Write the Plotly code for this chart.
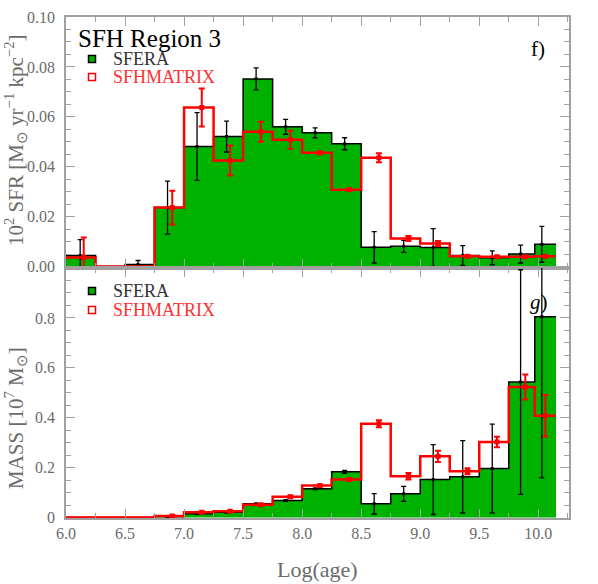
import plotly.graph_objects as go
from plotly.subplots import make_subplots

# bin edges in log(age) and the positions of the error bars
edges = [6.0, 6.25, 6.5, 6.75, 7.0, 7.25, 7.5, 7.75, 8.0, 8.25, 8.5, 8.75,
         9.0, 9.25, 9.5, 9.75, 9.97, 10.15]
age_sfera = [6.12, 6.375, 6.61, 6.86, 7.11, 7.36, 7.61, 7.86, 8.11, 8.36,
             8.61, 8.86, 9.11, 9.36, 9.61, 9.85, 10.03]
age_matrix = [6.15, 6.40, 6.65, 6.90, 7.15, 7.39, 7.65, 7.90, 8.15, 8.40,
              8.65, 8.90, 9.15, 9.40, 9.65, 9.89, 10.06]

# panel f) : SFR
sfr_sfera = [0.0044, 0.0, 0.0008, 0.0236, 0.0481, 0.0521, 0.0752, 0.0560, 0.0536,
             0.0492, 0.0077, 0.0081, 0.0076, 0.0044, 0.0035, 0.0050, 0.0089]
sfr_sfera_err = [0.0064, None, 0.0016, 0.0106, 0.0136, 0.0062, 0.0044, 0.0030, 0.0020,
                 0.0024, 0.0063, 0.0024, 0.0076, 0.0040, 0.0028, 0.0036, 0.0072]
sfr_matrix = [0.0036, 0.0, 0.0, 0.0236, 0.0637, 0.0425, 0.0540, 0.0508, 0.0456,
              0.0308, 0.0436, 0.0112, 0.0092, 0.0041, 0.0039, 0.0039, 0.0041]
sfr_matrix_err = [0.0080, None, None, 0.0068, 0.0076, 0.0060, 0.0040, 0.0036, 0.0006,
                  0.0004, 0.0018, 0.0010, 0.0010, 0.0004, 0.0004, 0.0004, 0.0004]

# panel g) : MASS
mass_sfera = [0.0, 0.0, 0.0, 0.004, 0.015, 0.021, 0.055, 0.068, 0.115, 0.183,
              0.055, 0.095, 0.152, 0.163, 0.196, 0.543, 0.805]
mass_sfera_err = [None, None, None, 0.002, 0.002, 0.002, 0.002, 0.003, 0.003, 0.006,
                  0.041, 0.030, 0.140, 0.145, 0.178, 0.450, 0.646]
mass_matrix = [0.0, 0.0, 0.0, 0.006, 0.021, 0.025, 0.051, 0.083, 0.128, 0.152,
               0.376, 0.165, 0.245, 0.185, 0.303, 0.523, 0.408]
mass_matrix_err = [None, None, None, 0.002, 0.003, 0.003, 0.004, 0.005, 0.004, 0.004,
                   0.014, 0.013, 0.023, 0.012, 0.021, 0.050, 0.083]

GREEN = "#00b200"
RED = "#ff0000"
GREY = "#6b6b6b"
FRAME = "#a0a0a0"
FONT = "Liberation Serif"

W, H = 598, 584
ML, MR, MT, MB = 66, 29, 17, 66


def px_x(px):
    return (px - ML) / (W - ML - MR)


def px_y(py):
    return (H - MB - py) / (H - MT - MB)


def step(vals):
    return vals + [vals[-1]]


def errbar_trace(x, vals, errs, color, thick, cap, msize):
    y = [v if e is not None else None for v, e in zip(vals, errs)]
    e = [e if e is not None else 0 for e in errs]
    return go.Scatter(
        x=x, y=y, mode="markers",
        marker=dict(size=msize, color=color, symbol="square"),
        error_y=dict(type="data", array=e, color=color, thickness=thick, width=cap),
        showlegend=False, hoverinfo="skip",
    )


fig = make_subplots(rows=2, cols=1, shared_xaxes=True, vertical_spacing=0)

panels = [
    (1, sfr_sfera, sfr_sfera_err, sfr_matrix, sfr_matrix_err),
    (2, mass_sfera, mass_sfera_err, mass_matrix, mass_matrix_err),
]
for row, s_val, s_err, m_val, m_err in panels:
    fig.add_trace(go.Scatter(
        x=edges, y=step(s_val), mode="lines", line_shape="hv",
        line=dict(color="black", width=1.5), fill="tozeroy", fillcolor=GREEN,
        showlegend=False, hoverinfo="skip",
    ), row=row, col=1)
    fig.add_trace(errbar_trace(age_sfera, s_val, s_err, "black", 1.3, 2.5, 3), row=row, col=1)
    fig.add_trace(go.Scatter(
        x=edges, y=step(m_val), mode="lines", line_shape="hv",
        line=dict(color=RED, width=2.5), showlegend=False, hoverinfo="skip",
    ), row=row, col=1)
    fig.add_trace(errbar_trace(age_matrix, m_val, m_err, RED, 2, 3, 5), row=row, col=1)

axis_common = dict(
    showline=True, linecolor=FRAME, linewidth=1.5, mirror="ticks",
    ticks="inside", ticklen=9, tickcolor=FRAME, tickwidth=1,
    showgrid=False, zeroline=False, automargin=False,
    tickfont=dict(family=FONT, size=16, color=GREY),
)

fig.update_xaxes(**axis_common, range=[6.0, 10.26], tick0=6.0, dtick=0.5,
                 tickformat=".1f",
                 minor=dict(dtick=0.25, ticks="inside", ticklen=5, tickcolor=FRAME))
fig.update_xaxes(showticklabels=False, row=1, col=1)

fig.update_yaxes(**axis_common, row=1, col=1, domain=[px_y(268), 1.0],
                 range=[-0.0006, 0.1], tickvals=[0, 0.02, 0.04, 0.06, 0.08, 0.10],
                 tickformat=".2f", ticklabelstandoff=6,
                 minor=dict(dtick=0.005, ticks="inside", ticklen=5, tickcolor=FRAME))
fig.update_yaxes(**axis_common, row=2, col=1, domain=[0.0, px_y(268)],
                 range=[-0.002, 1.0], tickvals=[0, 0.2, 0.4, 0.6, 0.8],
                 ticktext=["0", "0.2", "0.4", "0.6", "0.8"], ticklabelstandoff=6,
                 minor=dict(dtick=0.05, ticks="inside", ticklen=5, tickcolor=FRAME))

annotations = [
    dict(text="SFH Region 3", x=px_x(77), y=px_y(38), xanchor="left",
         font=dict(family=FONT, size=25, color="black")),
    dict(text="f)", x=px_x(538), y=px_y(49),
         font=dict(family=FONT, size=21, color="black")),
    dict(text="<i>g</i>)", x=px_x(539), y=px_y(302),
         font=dict(family=FONT, size=21, color="black")),
    dict(text="Log(age)", x=0.5, y=px_y(569),
         font=dict(family=FONT, size=22, color=GREY)),
    dict(text="10<sup>2</sup> SFR [M<sub>\u2299</sub> yr<sup>\u22121</sup> kpc<sup>\u22122</sup>]",
         x=px_x(15), y=px_y(141), textangle=-90,
         font=dict(family=FONT, size=21, color=GREY)),
    dict(text="MASS [10<sup>7</sup> M<sub>\u2299</sub>]",
         x=px_x(15), y=px_y(418), textangle=-90,
         font=dict(family=FONT, size=21, color=GREY)),
]
shapes = []
for y_sfera, y_matrix in [(59, 77), (291, 310)]:
    annotations.append(dict(text="SFERA", x=px_x(112), y=px_y(y_sfera), xanchor="left",
                            font=dict(family=FONT, size=18, color="#333333")))
    annotations.append(dict(text="SFHMATRIX", x=px_x(112), y=px_y(y_matrix), xanchor="left",
                            font=dict(family=FONT, size=18, color="#ff3030")))
    for yy, fill, line in [(y_sfera, GREEN, "black"), (y_matrix, "white", RED)]:
        shapes.append(dict(type="rect", xref="paper", yref="paper",
                           xsizemode="pixel", ysizemode="pixel",
                           xanchor=px_x(92), yanchor=px_y(yy),
                           x0=-3.5, x1=3.5, y0=-3.5, y1=3.5,
                           fillcolor=fill, line=dict(color=line, width=1.5)))

for a in annotations:
    a.update(xref="paper", yref="paper", showarrow=False, borderpad=0)
    a.setdefault("xanchor", "center")
    a.setdefault("yanchor", "middle")

fig.update_layout(
    width=W, height=H,
    margin=dict(l=ML, r=MR, t=MT, b=MB),
    paper_bgcolor="white", plot_bgcolor="white",
    annotations=annotations, shapes=shapes,
    showlegend=False,
)

# the page's default body margin would shift the figure by 8 px
fig.write_html("out.html", config={"displayModeBar": False},
               post_script="document.body.style.margin = '0';")
